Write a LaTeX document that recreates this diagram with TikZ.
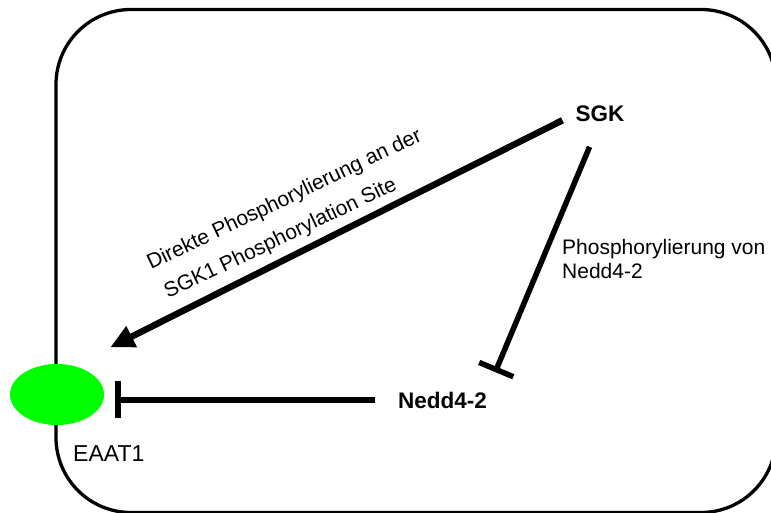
\documentclass[tikz,border=0pt]{standalone}
\usepackage{fontspec}
\setmainfont{Liberation Sans}
\usetikzlibrary{arrows.meta, shapes.geometric}
\definecolor{eaatgreen}{RGB}{0,255,0}

\begin{document}
\begin{tikzpicture}[x=1bp, y=-1bp,
    kinase/.style={font=\fontsize{22.5bp}{26bp}\selectfont\bfseries, inner sep=0pt},
    lbl/.style={font=\fontsize{21bp}{24bp}\selectfont, inner sep=0pt},
    act/.style={line width=6.5bp, -{Triangle[length=24bp, width=22bp]}},
    inhib/.style={-{Bar[width=37bp, line width=5.5bp]}}]
    \useasboundingbox (0,0) rectangle (771,513);

    % Zellmembran (rechts und unten abgeschnitten)
    \draw[line width=3.3bp, rounded corners=75bp] (56,9.5) rectangle (776,512.5);

    % EAAT1 als gruenes Oval auf der Membran
    \node[ellipse, fill=eaatgreen, inner sep=0pt, minimum width=94bp, minimum height=61bp] (eaat) at (57,394.5) {};
    \node[lbl, font=\fontsize{23bp}{26bp}\selectfont, anchor=base west] (eaatlabel) at (73,461) {EAAT1};

    % Kinase und Ubiquitin-Ligase
    \node[kinase, anchor=base] (sgk) at (600,121.5) {SGK};
    \node[kinase, anchor=base] (nedd) at (442.5,408) {Nedd4-2};

    % SGK -> EAAT1 (direkte Phosphorylierung)
    \draw[act, shorten <=14.5bp, shorten >=41bp] (sgk.west) -- (eaat.60);
    \node[lbl, rotate=25.5, anchor=base] (direkt) at (287,205) {Direkte Phosphorylierung an der};
    \node[lbl, rotate=25.5, anchor=base] (site) at (283,244) {SGK1 Phosphorylation Site};

    % SGK hemmt Nedd4-2
    \draw[inhib, line width=5.5bp, shorten <=27bp, shorten >=21bp] (sgk.south) -- (nedd.north east);
    \node[lbl, align=left, anchor=base west] (phos) at (562,279) {Phosphorylierung von\\Nedd4-2};

    % Nedd4-2 hemmt EAAT1
    \draw[inhib, line width=6.5bp, shorten <=23bp, shorten >=11bp] (nedd.west) -- (nedd.west -| eaat.east);
\end{tikzpicture}
\end{document}
